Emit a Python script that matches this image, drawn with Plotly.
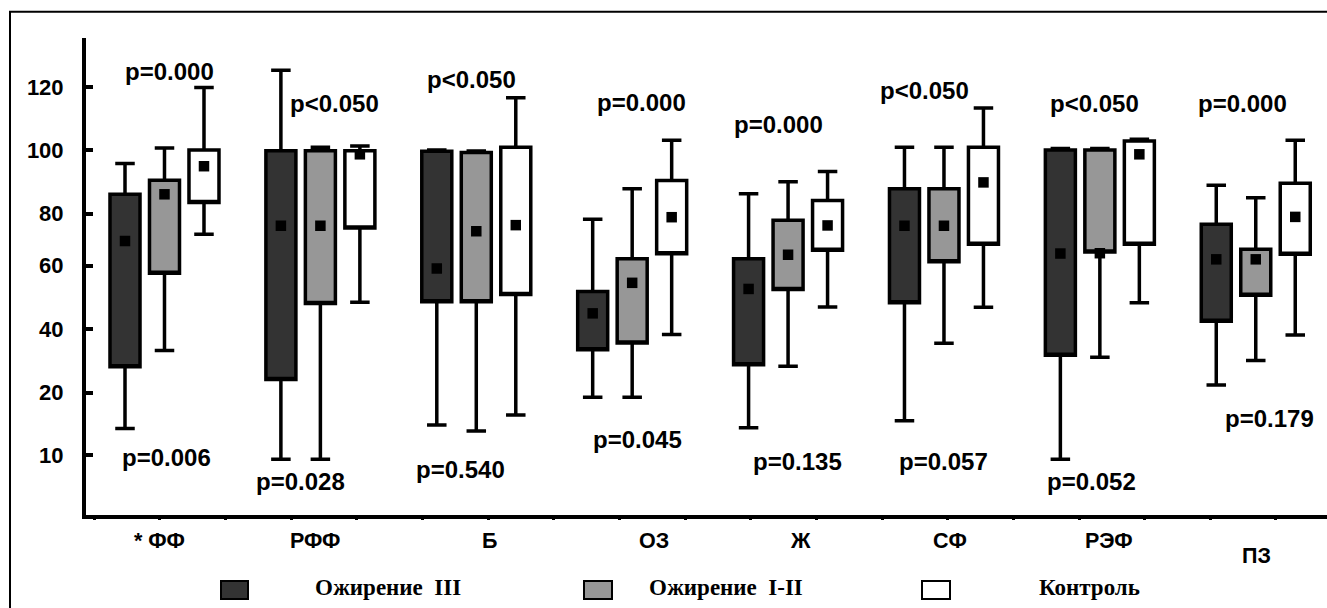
import plotly.graph_objects as go

# ---------------- data ----------------
categories = ["ФФ", "РФФ", "Б", "ОЗ", "Ж", "СФ", "РЭФ", "ПЗ"]
category_labels = ["* ФФ", "РФФ", "Б", "ОЗ", "Ж", "СФ", "РЭФ", "ПЗ"]
groups = ["Ожирение  III", "Ожирение  I-II", "Контроль"]

ob3_hi = [95.1, 125.6, 99.5, 76.8, 85.2, 100.4, 100.0, 88.0]
ob3_q3 = [85.0, 99.3, 99.1, 53.2, 63.9, 86.8, 99.5, 75.2]
ob3_med = [69.7, 74.7, 60.7, 46.0, 54.0, 74.7, 65.6, 63.7]
ob3_q1 = [28.5, 24.3, 49.8, 34.1, 29.2, 49.5, 32.3, 43.4]
ob3_lo = [8.3, -1.8, 9.4, 18.5, 8.5, 10.8, -1.8, 22.5]

ob12_hi = [100.2, 100.4, 99.2, 86.8, 89.1, 100.4, 100.0, 83.9]
ob12_q3 = [89.6, 99.3, 98.7, 63.9, 76.5, 86.8, 99.5, 67.0]
ob12_med = [85.0, 74.7, 72.9, 56.0, 65.2, 74.7, 65.7, 63.7]
ob12_q1 = [59.1, 49.2, 49.8, 36.3, 53.8, 62.9, 66.1, 51.9]
ob12_lo = [33.8, -1.8, 7.5, 18.5, 28.7, 36.2, 31.6, 30.6]

ctrl_hi = [120.0, 100.8, 116.6, 102.7, 92.5, 113.3, 103.0, 102.7]
ctrl_q3 = [99.5, 99.3, 100.4, 89.5, 83.0, 100.4, 102.5, 88.6]
ctrl_med = [94.2, 98.1, 74.9, 77.5, 74.8, 88.9, 98.1, 77.6]
ctrl_q1 = [82.3, 74.0, 52.2, 65.5, 66.7, 68.6, 68.6, 65.4]
ctrl_lo = [71.9, 49.6, 12.7, 39.1, 48.1, 48.0, 49.5, 38.9]

p_top = ["p=0.000", "p<0.050", "p<0.050", "p=0.000", "p=0.000", "p<0.050", "p<0.050", "p=0.000"]
p_bottom = ["p=0.006", "p=0.028", "p=0.540", "p=0.045", "p=0.135", "p=0.057", "p=0.052", "p=0.179"]

tick_vals = [-0.4, 20, 40.8, 61.6, 78.7, 99.5, 120]
tick_text = ["10", "20", "40", "60", "80", "100", "120"]

# ---------------- placement / style ----------------
p_top_dx = [5.5, 14.6, -5, 9, -10, -19, -5, -13]
p_top_y = [125.3, 114.9, 122.7, 115.2, 108.0, 119.1, 114.9, 114.9]
p_bot_dx = [2.5, -19.4, -16, 5, 9.4, 0, -8, 14]
p_bot_y = [-1.05, -9.2, -5.3, 4.8, -2.4, -2.4, -9.2, 11.4]
cat_dx = [-4.5, -5.4, 13.7, 21.8, 12.9, 6, 9.1, 1.2]
cat_dy = [-25.5, -25.5, -25.5, -25.5, -25.5, -25.5, -25.5, -40.5]

fills = ["#333333", "#979797", "#ffffff"]
W, H = 1327, 608
ML, MR, MT, MB = 86, 0, 38, 93
PW, PH = W - ML - MR, H - MT - MB

SANS = "Liberation Sans, Arial, sans-serif"
SERIF = "Liberation Serif, Times New Roman, serif"


def px_x(px):
    return (px - ML) / PW


def px_y(py):
    return (H - MB - py) / PH


series = [
    (ob3_lo, ob3_q1, ob3_med, ob3_q3, ob3_hi),
    (ob12_lo, ob12_q1, ob12_med, ob12_q3, ob12_hi),
    (ctrl_lo, ctrl_q1, ctrl_med, ctrl_q3, ctrl_hi),
]

fig = go.Figure()
for name, color, (lo, q1, med, q3, hi) in zip(groups, fills, series):
    fig.add_trace(go.Box(
        name=name, x=categories, q1=q1, median=q1, q3=q3,
        lowerfence=lo, upperfence=hi,
        fillcolor=color, line=dict(color="black", width=3.5),
        whiskerwidth=0.65, boxpoints=False, showlegend=False,
        hoverinfo="skip",
    ))
for name, (lo, q1, med, q3, hi) in zip(groups, series):
    fig.add_trace(go.Scatter(
        name=name + " медиана", x=categories, y=med, mode="markers",
        marker=dict(symbol="square", size=10.5, color="black", line=dict(width=0)),
        showlegend=False, hoverinfo="skip", cliponaxis=False,
    ))

annotations = []
for i, c in enumerate(categories):
    annotations.append(dict(x=c, y=p_top_y[i], xref="x", yref="y", text=p_top[i],
                            xshift=p_top_dx[i], showarrow=False,
                            font=dict(family=SANS, size=24, color="black", weight="bold")))
    annotations.append(dict(x=c, y=p_bot_y[i], xref="x", yref="y", text=p_bottom[i],
                            xshift=p_bot_dx[i], showarrow=False,
                            font=dict(family=SANS, size=24, color="black", weight="bold")))
    annotations.append(dict(x=c, y=0, xref="x", yref="paper", text=category_labels[i],
                            xshift=cat_dx[i], yshift=cat_dy[i], yanchor="middle",
                            showarrow=False,
                            font=dict(family=SANS, size=21.5, color="black", weight="bold")))

# custom legend
leg_sw = [(221, 248), (584, 612), (922, 950)]
leg_tx = [315, 649, 1039]
shapes = []
for (x0, x1), tx, name, color in zip(leg_sw, leg_tx, groups, fills):
    shapes.append(dict(type="rect", xref="paper", yref="paper",
                       x0=px_x(x0), x1=px_x(x1), y0=px_y(599), y1=px_y(581),
                       fillcolor=color, line=dict(color="black", width=2)))
    annotations.append(dict(x=px_x(tx - 2), y=px_y(587), xref="paper", yref="paper",
                            xanchor="left", yanchor="middle", text=name, showarrow=False,
                            font=dict(family=SERIF, size=23, color="black", weight="bold")))

# outer frame
shapes.append(dict(type="rect", xref="paper", yref="paper",
                   x0=px_x(10), x1=px_x(1335), y0=px_y(620), y1=px_y(11.7),
                   line=dict(color="black", width=2), fillcolor="rgba(0,0,0,0)", layer="below"))

xr = [-0.5035, 7.457]
fig.update_layout(
    width=W, height=H,
    margin=dict(l=ML, r=MR, t=MT, b=MB, pad=0),
    paper_bgcolor="white", plot_bgcolor="white",
    boxmode="group", boxgap=0.24, boxgroupgap=0.24,
    scattermode="group", scattergap=0.24,
    showlegend=False,
    font=dict(family=SANS, color="black"),
    xaxis=dict(type="category", categoryorder="array", categoryarray=categories,
               range=xr, showline=True, linewidth=4, linecolor="black",
               ticks="", showticklabels=False, showgrid=False, zeroline=False),
    xaxis2=dict(overlaying="x", anchor="y", side="bottom", range=xr,
                tickmode="linear", tick0=-0.029, dtick=0.4211,
                ticks="outside", ticklen=4, tickwidth=3, tickcolor="black",
                showticklabels=False, showline=False, showgrid=False, zeroline=False),
    yaxis=dict(range=[-20.05, 136.2], tickmode="array", tickvals=tick_vals, ticktext=tick_text,
               ticks="inside", ticklen=7, tickwidth=4, tickcolor="black",
               showline=True, linewidth=4, linecolor="black",
               showgrid=False, zeroline=False, ticklabelstandoff=14,
               tickfont=dict(family=SANS, size=22, color="black", weight="bold")),
    annotations=annotations,
    shapes=shapes,
)
fig.add_trace(go.Scatter(x=[0, 1], y=[None, None], xaxis="x2", yaxis="y",
                         showlegend=False, hoverinfo="skip", mode="markers"))

fig.write_html("out.html", config={"displayModeBar": False},
               post_script="document.body.style.margin='0';")
